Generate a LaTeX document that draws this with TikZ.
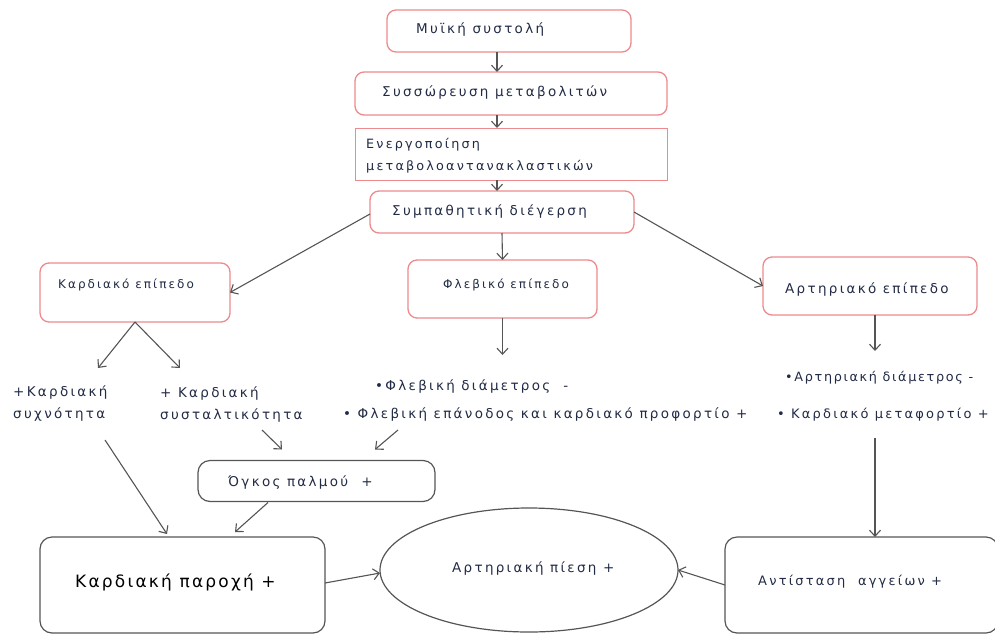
\documentclass[tikz,border=0pt]{standalone}
\usepackage{fontspec}
\setmainfont{DejaVu Sans}[LetterSpace=17]
\usetikzlibrary{arrows.meta,shapes.geometric,calc}
\definecolor{boxred}{HTML}{EC8A8E}
\definecolor{txt}{HTML}{222B45}
\definecolor{lin}{HTML}{555555}
\begin{document}
\begin{tikzpicture}[x=1pt,y=-1pt,
 redbox/.style={draw=boxred,line width=1.3pt,rounded corners=9pt,inner sep=0pt,outer sep=0pt},
 sqbox/.style={draw=boxred,line width=1pt,inner sep=0pt,outer sep=0pt},
 blkbox/.style={draw=lin,line width=1.2pt,rounded corners=12pt,inner sep=0pt,outer sep=0pt},
 lbl/.style={text=txt,font=\fontsize{13.5}{22}\selectfont,inner sep=0pt,anchor=west,align=left},
 small/.style={font=\fontsize{12}{22}\selectfont},
 arr/.style={draw=lin,line width=1.1pt,-{Straight Barb[length=6pt,width=11pt]}}]
\useasboundingbox (0,0) rectangle (995,635);
% boxes
\node[redbox,minimum width=244pt,minimum height=42pt] (b1) at (509,31) {};
\node[redbox,minimum width=312pt,minimum height=43pt] (b2) at (511,93.5) {};
\node[sqbox,minimum width=312pt,minimum height=52pt] (b3) at (511,154) {};
\node[redbox,minimum width=264pt,minimum height=42pt] (b4) at (502,212) {};
\node[redbox,minimum width=190pt,minimum height=59pt] (kard) at (135,292.5) {};
\node[redbox,minimum width=189pt,minimum height=58pt] (fleb) at (502.5,289) {};
\node[redbox,minimum width=214pt,minimum height=58pt] (art) at (870,286) {};
\node[blkbox,minimum width=237pt,minimum height=41pt] (ogk) at (316.5,481) {};
\node[blkbox,minimum width=285pt,minimum height=96pt] (par) at (182.5,585) {};
\node[draw=lin,line width=1.2pt,ellipse,minimum width=298pt,minimum height=124pt,inner sep=0pt,outer sep=0pt] (pies) at (529,570) {};
\node[blkbox,minimum width=273pt,minimum height=96pt] (ant) at (861.5,585) {};
% texts
\node[lbl] (t1) at (416,30) {Μυϊκή συστολή};
\node[lbl] (t2) at (382,93) {Συσσώρευση μεταβολιτών};
\node[lbl,font=\fontsize{12.8}{22}\selectfont] (t3) at (366,156) {Ενεργοποίηση\\μεταβολοαντανακλαστικών};
\node[lbl] (t4) at (392,212) {Συμπαθητική διέγερση};
\node[lbl,small] (tk) at (58,285) {Καρδιακό επίπεδο};
\node[lbl,small] (tf) at (443,285) {Φλεβικό επίπεδο};
\node[lbl] (ta) at (785,289) {Αρτηριακό επίπεδο};
\node[lbl] (syx) at (13,404) {+Καρδιακή\\συχνότητα};
\node[lbl] (sys) at (160,404) {+ Καρδιακή\\συσταλτικότητα};
\node[lbl] (fd) at (375,387) {•Φλεβική διάμετρος\ \ -};
\node[lbl] (fe) at (343,415) {• Φλεβική επάνοδος και καρδιακό προφορτίο +};
\node[lbl,font=\fontsize{12.8}{22}\selectfont\addfontfeature{LetterSpace=13}] (ad) at (785,378) {•Αρτηριακή διάμετρος\ -};
\node[lbl,font=\fontsize{13}{22}\selectfont] (am) at (777,415) {• Καρδιακό μεταφορτίο +};
\node[lbl] (to) at (228,483) {Όγκος παλμού\ \ +};
\node[lbl,text=black,font=\fontsize{17}{20}\selectfont\addfontfeature{LetterSpace=13}] (tp) at (75,582) {Καρδιακή παροχή +};
\node[lbl] (tpi) at (452,568) {Αρτηριακή πίεση +};
\node[lbl,font=\fontsize{13}{22}\selectfont] (tan) at (758,582) {Αντίσταση\ \ αγγείων +};
% arrows
\draw[arr] (497,0 |- b1.south) -- (497,0 |- b2.north);
\draw[arr] (497,0 |- b2.south) -- (497,0 |- b3.north);
\draw[arr] (497,0 |- b3.south) -- (497,0 |- b4.north);
\draw[arr] ($(b4.west)+(0,2)$) -- (kard.east);
\draw[arr] (b4.south) -- (fleb.north);
\draw[arr] (b4.east) -- (art.west);
\draw[arr] (kard.south) -- ($(syx.west)+(85,-36)$);
\draw[arr] (kard.south) -- ($(sys.west)+(20,-36)$);
\draw[arr] (fleb.south) -- ++(0,37);
\draw[arr] ($(art.south)+(5,0)$) -- ++(0,36);
\draw[arr] ($(syx.west)+(92,36)$) -- ($(par.north west)+(127,-3)$);
\draw[arr] ($(sys.west)+(102,26)$) -- ($(ogk.north west)+(84,-11)$);
\draw[arr] ($(fe.west)+(55,15)$) -- ($(ogk.north west)+(177,-11)$);
\draw[arr] ($(ogk.south west)+(70,1)$) -- ($(par.north west)+(195,-5)$);
\draw[arr] ($(am.west)+(98,23)$) -- (ant.north -| 875,0);
\draw[arr] ($(par.east)+(0,-2)$) -- ($(pies.west)+(0,3)$);
\draw[arr] (ant.west) -- (pies.east);
\end{tikzpicture}
\end{document}
